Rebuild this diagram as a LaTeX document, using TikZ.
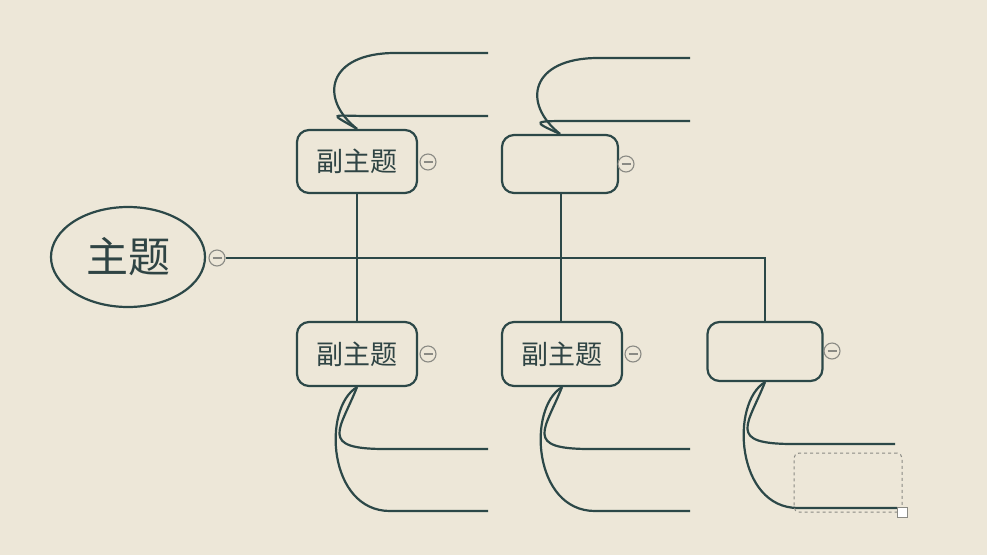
\documentclass[tikz,border=0pt]{standalone}
\usepackage{fontspec}
\newfontfamily\cjk{Noto Sans CJK SC}
\usetikzlibrary{shapes.geometric}
\definecolor{bgc}{HTML}{EDE7D8}
\definecolor{linec}{HTML}{2C4848}
\definecolor{txtc}{HTML}{2F4444}
\definecolor{grayc}{HTML}{8A8A84}
\begin{document}
\begin{tikzpicture}[x=1pt,y=-1pt,
  conn/.style={draw=linec,line width=2.2pt},
  topicbox/.style={draw=linec,line width=2.2pt,rounded corners=12pt,fill=bgc,text=txtc,
     font=\cjk\fontsize{27}{27}\selectfont,inner sep=0pt},
  collapse/.style={circle,draw=grayc,line width=1.1pt,fill=bgc,minimum size=16pt,inner sep=0pt,
     path picture={\draw[grayc,line width=1.3pt] ([xshift=-4.5pt]path picture bounding box.center) -- ([xshift=4.5pt]path picture bounding box.center);}}
]
\fill[bgc] (0,0) rectangle (987,555);
\useasboundingbox (0,0) rectangle (987,555);

% main topic
\node[ellipse,draw=linec,line width=2.2pt,fill=bgc,minimum width=154pt,minimum height=100pt,inner sep=0pt,
  text=txtc,font=\cjk\fontsize{42}{42}\selectfont] (main) at (128,257) {主题};
\node[collapse] (cm) at (217,258) {};

% subtopics
\node[topicbox,minimum width=120pt,minimum height=63pt] (b1) at (357,161.5) {副主题};
\node[topicbox,minimum width=116pt,minimum height=58pt] (b2) at (560,164) {};
\node[topicbox,minimum width=120pt,minimum height=64pt] (b3) at (357,354) {副主题};
\node[topicbox,minimum width=120pt,minimum height=64pt] (b4) at (562,354) {副主题};
\node[topicbox,minimum width=115pt,minimum height=59pt] (b5) at (765,351.5) {};

\coordinate (corner) at (765,258);

% trunk
\draw[conn] (cm.east) -- (corner) -- (b5.north);
\draw[conn] (b1.south) -- (b3.north);
\draw[conn] (b2.south -| 561,0) -- (b4.north -| 561,0);

% collapse markers
\node[collapse] (c1) at (428,162) {};
\node[collapse] (c2) at (626,164) {};
\node[collapse] (c3) at (428,354) {};
\node[collapse] (c4) at (633,354) {};
\node[collapse] (c5) at (832,351) {};

% free ends
\coordinate (e1a) at (488,53);  \coordinate (e1b) at (488,116);
\coordinate (e2a) at (690,58);  \coordinate (e2b) at (690,121);
\coordinate (e3a) at (488,449); \coordinate (e3b) at (488,511);
\coordinate (e4a) at (690,449); \coordinate (e4b) at (690,511);
\coordinate (e5a) at (895,444); \coordinate (e5b) at (897,508);

% box 1 top branches
\draw[conn] (b1.north) .. controls (328,112) and (330,116) .. (370,116) -- (e1b);
\draw[conn] (b1.north) .. controls (318,98) and (328,53) .. (395,53) -- (e1a);
% box 2 top branches
\draw[conn] (b2.north) .. controls (531,121) and (533,121) .. (573,121) -- (e2b);
\draw[conn] (b2.north) .. controls (521,103) and (531,58) .. (598,58) -- (e2a);
% box 3 bottom branches
\draw[conn] (b3.south) .. controls (340,430) and (318,449) .. (385,449) -- (e3a);
\draw[conn] (b3.south) .. controls (322,408) and (328,511) .. (390,511) -- (e3b);
% box 4 bottom branches
\draw[conn] (b4.south) .. controls (545,430) and (523,449) .. (590,449) -- (e4a);
\draw[conn] (b4.south) .. controls (527,408) and (533,511) .. (595,511) -- (e4b);
% box 5 bottom branches
\draw[conn] (b5.south) .. controls (748,425) and (726,444) .. (793,444) -- (e5a);
\draw[conn] (b5.south) .. controls (730,403) and (736,508) .. (798,508) -- (e5b);

% selection placeholder
\node[draw=grayc,dashed,line width=1pt,rounded corners=5pt,minimum width=108pt,minimum height=59pt,inner sep=0pt] (sel) at (848,482.5) {};
\node[draw=grayc,fill=white,line width=0.8pt,minimum size=10pt,inner sep=0pt] (handle) at (sel.south east) {};
\end{tikzpicture}
\end{document}
